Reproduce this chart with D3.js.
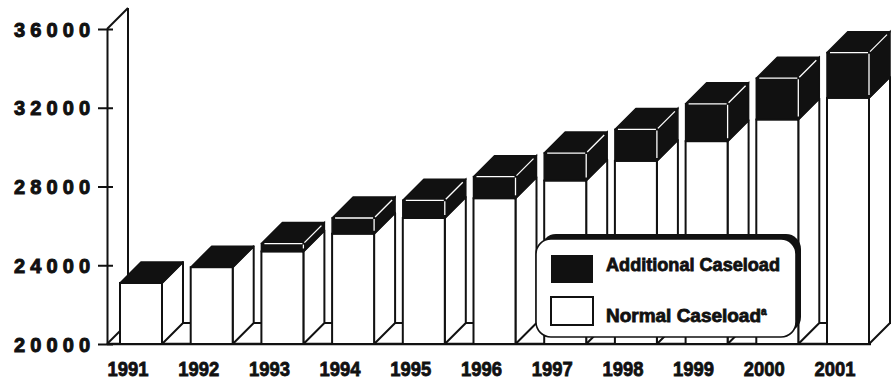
<!DOCTYPE html>
<html>
<head>
<meta charset="utf-8">
<script src="https://cdn.jsdelivr.net/npm/d3@7/dist/d3.min.js"></script>
<style>
  html, body { margin: 0; padding: 0; background: #fff; }
  svg { display: block; }
  text { font-family: "Liberation Sans", Arial, Helvetica, sans-serif; font-weight: bold; fill: #111; }
</style>
</head>
<body>
<svg id="chart" width="891" height="383"></svg>
<script>
// ---- data ----
const years = ["1991","1992","1993","1994","1995","1996","1997","1998","1999","2000","2001"];
const normalCaseload = [23100, 23900, 24700, 25600, 26400, 27400, 28300, 29300, 30300, 31400, 32500];
const additionalCaseload = [0, 0, 400, 800, 900, 1100, 1400, 1600, 1900, 2100, 2300];
const yTicks = [20000, 24000, 28000, 32000, 36000];
const legendLabels = ["Additional Caseload", "Normal Caseload"];

// ---- layout ----
const svg = d3.select("#chart");
const ink = "#111";
const dx = 21, dy = -21;          // depth of the 3D effect
const axisX = 107;

const x = d3.scaleBand().domain(years).range([120, 869]).paddingInner(0.406).paddingOuter(0);
const y = d3.scaleLinear().domain([20000, 36000]).range([344, 29]);
const bw = x.bandwidth();
const y0 = y(20000);

const g = svg.append("g");

// back wall / floor
g.append("line").attr("x1", axisX + dx).attr("y1", y(36000) + dy).attr("x2", axisX + dx).attr("y2", y0 + dy)
  .attr("stroke", ink).attr("stroke-width", 2);
g.append("line").attr("x1", axisX).attr("y1", y(36000)).attr("x2", axisX + dx).attr("y2", y(36000) + dy)
  .attr("stroke", ink).attr("stroke-width", 2);
g.append("line").attr("x1", axisX).attr("y1", y0).attr("x2", axisX + dx).attr("y2", y0 + dy)
  .attr("stroke", ink).attr("stroke-width", 2);
g.append("line").attr("x1", axisX + dx).attr("y1", y0 + dy).attr("x2", 891).attr("y2", y0 + dy)
  .attr("stroke", ink).attr("stroke-width", 2);
const lastX = x(years[years.length - 1]) + bw;
g.append("line").attr("x1", axisX).attr("y1", y0).attr("x2", lastX + 2).attr("y2", y0)
  .attr("stroke", ink).attr("stroke-width", 2.5);

// y axis
const yAxis = d3.axisLeft(y).tickValues(yTicks).tickSizeInner(9).tickSizeOuter(0).tickPadding(8)
  .tickFormat(d3.format("d"));
const ag = g.append("g").attr("transform", `translate(${axisX},0)`).call(yAxis);
ag.select(".domain").attr("stroke", ink).attr("stroke-width", 2);
ag.selectAll(".tick line").attr("stroke", ink).attr("stroke-width", 2).attr("x1", 6);
ag.selectAll(".tick text")
  .style("font-size", "20px")
  .attr("textLength", 76).attr("lengthAdjust", "spacing")
  .attr("fill", ink).attr("stroke", ink).attr("stroke-width", 1)
  .attr("dy", "0.36em");

// bars
const data = years.map((yr, i) => ({ yr, n: normalCaseload[i], a: additionalCaseload[i] }));
const poly = pts => "M" + pts.map(p => p.join(",")).join("L") + "Z";

const bars = g.append("g").selectAll("g.bar").data(data).join("g").attr("class", "bar");
bars.each(function(d) {
  const b = d3.select(this);
  const x0 = x(d.yr), x1 = x0 + bw;
  const yN = y(d.n), yT = y(d.n + d.a);
  // white side face
  b.append("path").attr("d", poly([[x1, y0], [x1 + dx, y0 + dy], [x1 + dx, yN + dy], [x1, yN]]))
    .attr("fill", "#fff").attr("stroke", ink).attr("stroke-width", 2).attr("stroke-linejoin", "round");
  // white front face
  b.append("rect").attr("x", x0).attr("y", yN).attr("width", bw).attr("height", y0 - yN)
    .attr("fill", "#fff").attr("stroke", ink).attr("stroke-width", 2);
  // dark parts
  if (d.a > 0) {
    b.append("rect").attr("x", x0).attr("y", yT).attr("width", bw).attr("height", yN - yT)
      .attr("fill", ink).attr("stroke", ink).attr("stroke-width", 1.5);
    b.append("path").attr("d", poly([[x1, yN], [x1 + dx, yN + dy], [x1 + dx, yT + dy], [x1, yT]]))
      .attr("fill", ink).attr("stroke", ink).attr("stroke-width", 1.5);
  }
  b.append("path").attr("d", poly([[x0, yT], [x1, yT], [x1 + dx, yT + dy], [x0 + dx, yT + dy]]))
    .attr("fill", ink).attr("stroke", ink).attr("stroke-width", 1.5).attr("stroke-linejoin", "round");
  if (d.a > 0) {
    const hl = [[x0 + 3, yT, x1 - 1, yT], [x1, yT + 1, x1, yN - 3], [x1 + 1, yT - 1, x1 + dx - 3, yT + dy + 3]];
    hl.forEach(s => b.append("line").attr("x1", s[0]).attr("y1", s[1]).attr("x2", s[2]).attr("y2", s[3])
      .attr("stroke", "#fff").attr("stroke-width", 1.3));
  }
});

// x labels
g.append("g").selectAll("text").data(years).join("text")
  .attr("x", d => x(d) + bw / 2 - 13).attr("y", 376)
  .attr("text-anchor", "middle")
  .attr("textLength", 41).attr("lengthAdjust", "spacingAndGlyphs")
  .style("font-size", "20px").attr("stroke", ink).attr("stroke-width", 0.8)
  .text(d => d);

// legend
const lg = svg.append("g");
lg.append("rect").attr("x", 541).attr("y", 234).attr("width", 260).attr("height", 98).attr("rx", 15)
  .attr("fill", ink);
lg.append("rect").attr("x", 536).attr("y", 239).attr("width", 260).attr("height", 98).attr("rx", 15)
  .attr("fill", "#fff").attr("stroke", ink).attr("stroke-width", 1.6);
lg.append("rect").attr("x", 551).attr("y", 255).attr("width", 42).attr("height", 28).attr("fill", ink);
lg.append("rect").attr("x", 551).attr("y", 297).attr("width", 42).attr("height", 28)
  .attr("fill", "#fff").attr("stroke", ink).attr("stroke-width", 2);
lg.append("text").attr("x", 606).attr("y", 271).style("font-size", "18px")
  .attr("textLength", 174).attr("lengthAdjust", "spacingAndGlyphs")
  .attr("stroke", ink).attr("stroke-width", 0.8).text(legendLabels[0]);
const t2 = lg.append("text").attr("x", 606).attr("y", 322).style("font-size", "18px")
  .attr("stroke", ink).attr("stroke-width", 0.8);
t2.append("tspan").attr("textLength", 155).attr("lengthAdjust", "spacingAndGlyphs").text(legendLabels[1]);
t2.append("tspan").attr("dy", -7).style("font-size", "10px").text("a");
</script>
</body>
</html>
